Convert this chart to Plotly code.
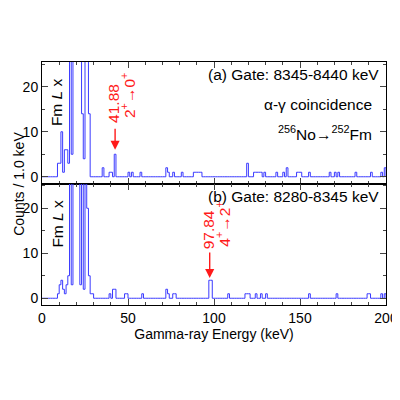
import numpy as np
import plotly.graph_objects as go
from plotly.subplots import make_subplots

# nonzero bins (keV, 1 keV wide)
a_keV = [9, 10, 11, 12, 13, 14, 15, 16, 17, 18, 19, 20, 21, 22, 23, 24, 25, 26, 27,
         35, 39, 40, 42, 50, 52, 57, 72, 73, 76, 81, 88, 89, 90, 91, 92, 119,
         123, 124, 125, 126, 127, 129, 136, 140, 142, 148, 149, 150, 155, 167,
         170, 172, 182, 191, 197, 199]
a_cnt = [3, 3, 10, 1, 6, 6, 3, 40, 5, 40, 40, 40, 40, 40, 14, 4, 40, 40, 14,
         2, 1, 1, 5, 1, 1, 1, 2, 1, 1, 1, 1, 1, 1, 1, 1, 3,
         1, 1, 1, 1, 1, 1, 1, 1, 2, 1, 1, 1, 1, 1,
         1, 1, 1, 1, 1, 2]

b_keV = [9, 10, 11, 12, 13, 14, 15, 16, 17, 18, 19, 20, 21, 22, 23, 24, 25, 26, 27, 28,
         29, 39, 41, 42, 48, 49, 58, 72, 73, 76, 77, 97, 98, 108, 118, 119, 120,
         124, 127, 130, 155, 171, 189, 190, 197, 199]
b_cnt = [1, 3, 4, 2, 1, 3, 5, 40, 3, 40, 40, 40, 40, 3, 40, 2, 40, 20, 5, 1,
         1, 1, 2, 2, 1, 1, 1, 2, 1, 1, 1, 4, 4, 1, 1, 1, 1,
         1, 1, 1, 1, 1, 1, 1, 1, 1]

edges = np.arange(0, 201)


def hist(keys, vals):
    c = np.zeros(201)
    for k, v in zip(keys, vals):
        c[k] = v
    return c


blue = "#3a3aff"
red = "#ff1a1a"
font = "Liberation Sans, Arial"

fig = make_subplots(rows=2, cols=1, shared_xaxes=True, vertical_spacing=0)
fig.add_trace(go.Scatter(x=edges, y=hist(a_keV, a_cnt), line_shape="hv",
                         line=dict(color=blue, width=1), mode="lines"), row=1, col=1)
fig.add_trace(go.Scatter(x=edges, y=hist(b_keV, b_cnt), line_shape="hv",
                         line=dict(color=blue, width=1), mode="lines"), row=2, col=1)

ax = dict(showline=True, linecolor="black", linewidth=1, mirror="allticks",
          ticks="inside", showgrid=False, zeroline=False,
          tickfont=dict(size=14, color="black"))
for r in (1, 2):
    fig.update_xaxes(range=[0, 200], dtick=50, minor=dict(dtick=10, ticks="inside", ticklen=3),
                     ticklen=6, row=r, col=1, **ax)
    fig.update_yaxes(range=[-1.5, 25.5], tickvals=[0, 10, 20],
                     minor=dict(dtick=5, ticks="inside", ticklen=3), ticklen=6,
                     row=r, col=1, **ax)
fig.update_xaxes(title=dict(text="Gamma-ray Energy (keV)", font=dict(size=14, color="black"),
                            standoff=2), row=2, col=1)

ann = []
def txt(x, y, s, xref, yref, size=15.5, color="black", **kw):
    d = dict(x=x, y=y, text=s, xref=xref, yref=yref, showarrow=False,
             font=dict(family=font, size=size, color=color))
    d.update(kw)
    ann.append(d)

txt(197, 25, "(a) Gate: 8345-8440 keV", "x", "y", xanchor="right", yanchor="top")
txt(193, 18.5, "α-γ coincidence", "x", "y", xanchor="right", yanchor="top")
txt(193, 12.5, "<sup>256</sup>No→<sup>252</sup>Fm", "x", "y", xanchor="right", yanchor="top")
txt(197, 25, "(b) Gate: 8280-8345 keV", "x2", "y2", xanchor="right", yanchor="top")
txt(8.5, 16.5, "Fm <i>L</i> x", "x", "y", textangle=-90)
txt(8.5, 16.5, "Fm <i>L</i> x", "x2", "y2", textangle=-90)
txt(-0.098, 0.5, "Counts / 1.0 keV", "paper", "paper", size=14, textangle=-90)

# red arrows and labels
ann.append(dict(x=42.5, y=6, ax=42.5, ay=11, xref="x", yref="y", axref="x", ayref="y",
                showarrow=True, arrowhead=2, arrowsize=1.3, arrowwidth=1.4, arrowcolor=red, text=""))
txt(41.5, 11.5, "41.88", "x", "y", color=red, textangle=-90, yanchor="bottom")
txt(50, 12.5, "2<sup>+</sup>→0<sup>+</sup>", "x", "y", color=red, textangle=-90, yanchor="bottom")
ann.append(dict(x=97.5, y=4.5, ax=97.5, ay=10.5, xref="x2", yref="y2", axref="x2", ayref="y2",
                showarrow=True, arrowhead=2, arrowsize=1.3, arrowwidth=1.4, arrowcolor=red, text=""))
txt(97, 10.5, "97.84", "x2", "y2", color=red, textangle=-90, yanchor="bottom")
txt(105.5, 11, "4<sup>+</sup>→2<sup>+</sup>", "x2", "y2", color=red, textangle=-90, yanchor="bottom")

fig.update_layout(width=400, height=400, showlegend=False, annotations=ann,
                  margin=dict(l=34, r=22, t=54, b=103, autoexpand=False), plot_bgcolor="white",
                  paper_bgcolor="white", font=dict(family=font, color="black"))
fig.write_html("out.html")
